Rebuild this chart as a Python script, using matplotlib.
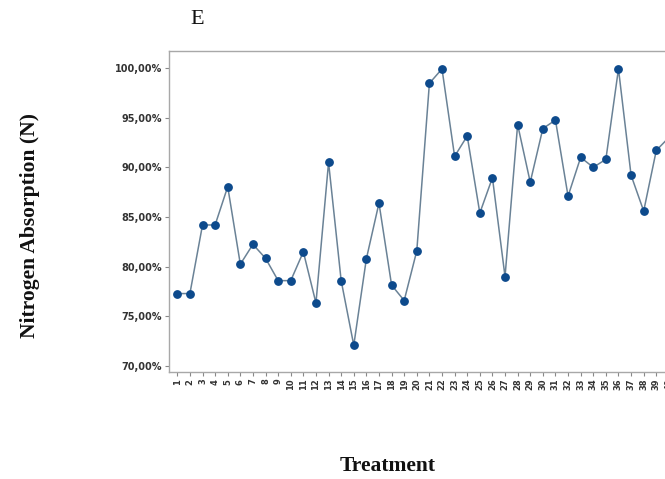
import matplotlib
matplotlib.use("Agg")
import matplotlib.pyplot as plt
from matplotlib.ticker import FuncFormatter

treatments = list(range(1, 41))
absorption = [77.3, 77.3, 84.2, 84.2, 88.05, 80.25, 82.25, 80.85, 78.6, 78.6,
              81.5, 76.35, 90.5, 78.6, 72.1, 80.8, 86.4, 78.15, 76.6, 81.6,
              98.45, 99.9, 91.1, 93.15, 85.4, 88.95, 79.0, 94.3, 88.5, 93.9,
              94.75, 87.1, 91.0, 90.0, 90.8, 99.9, 89.2, 85.6, 91.7, 93.0]
y_ticks = [70, 75, 80, 85, 90, 95, 100]

W, H = 665, 479
fig = plt.figure(figsize=(W / 100, H / 100), dpi=100)

px_step = 12.605
x_left = 1 - (177.3 - 169) / px_step
x_right = 42.0
ax_left_px = 169
ax_width_px = (x_right - x_left) * px_step
ax_top_px = 51
ax_bot_px = 371.7
ax = fig.add_axes([ax_left_px / W, 1 - ax_bot_px / H,
                   ax_width_px / W, (ax_bot_px - ax_top_px) / H])

ax.plot(treatments, absorption, color="#6a8296", linewidth=1.1, zorder=2)
ax.plot(treatments, absorption, linestyle="none", marker="o", markersize=5.3,
        markerfacecolor="#0d4a8c", markeredgecolor="#0d4a8c", zorder=3)

ax.set_xlim(x_left, x_right)
ax.set_ylim(69.44, 101.7)
ax.set_xticks(treatments)
ax.set_xticklabels([str(t) for t in treatments], rotation=90,
                   fontsize=6, fontweight="bold", color="#333333")
ax.set_yticks(y_ticks)
ax.yaxis.set_major_formatter(FuncFormatter(lambda v, p: f"{v:.2f}".replace(".", ",") + "%"))
for lab in ax.get_yticklabels():
    lab.set_fontsize(7)
    lab.set_fontweight("bold")
    lab.set_color("#333333")

for s in ax.spines.values():
    s.set_color("#a8a8a8")
    s.set_linewidth(1.0)
ax.tick_params(axis="both", colors="#888888", length=3, width=0.8, pad=2)
ax.tick_params(axis="both", labelcolor="#333333")

fig.text(30 / W, 1 - 225 / H, "Nitrogen Absorption (N)", rotation=90,
         ha="center", va="center", fontsize=15.5, fontweight="bold",
         family="Liberation Serif", color="#111111")
fig.text(388 / W, 1 - 466 / H, "Treatment", ha="center", va="center",
         fontsize=15.5, fontweight="bold", family="Liberation Serif", color="#111111")
fig.text(197 / W, 1 - 20 / H, "E", ha="center", va="center",
         fontsize=16, family="Liberation Serif", color="#111111")

fig.savefig("out.png", dpi=100)
